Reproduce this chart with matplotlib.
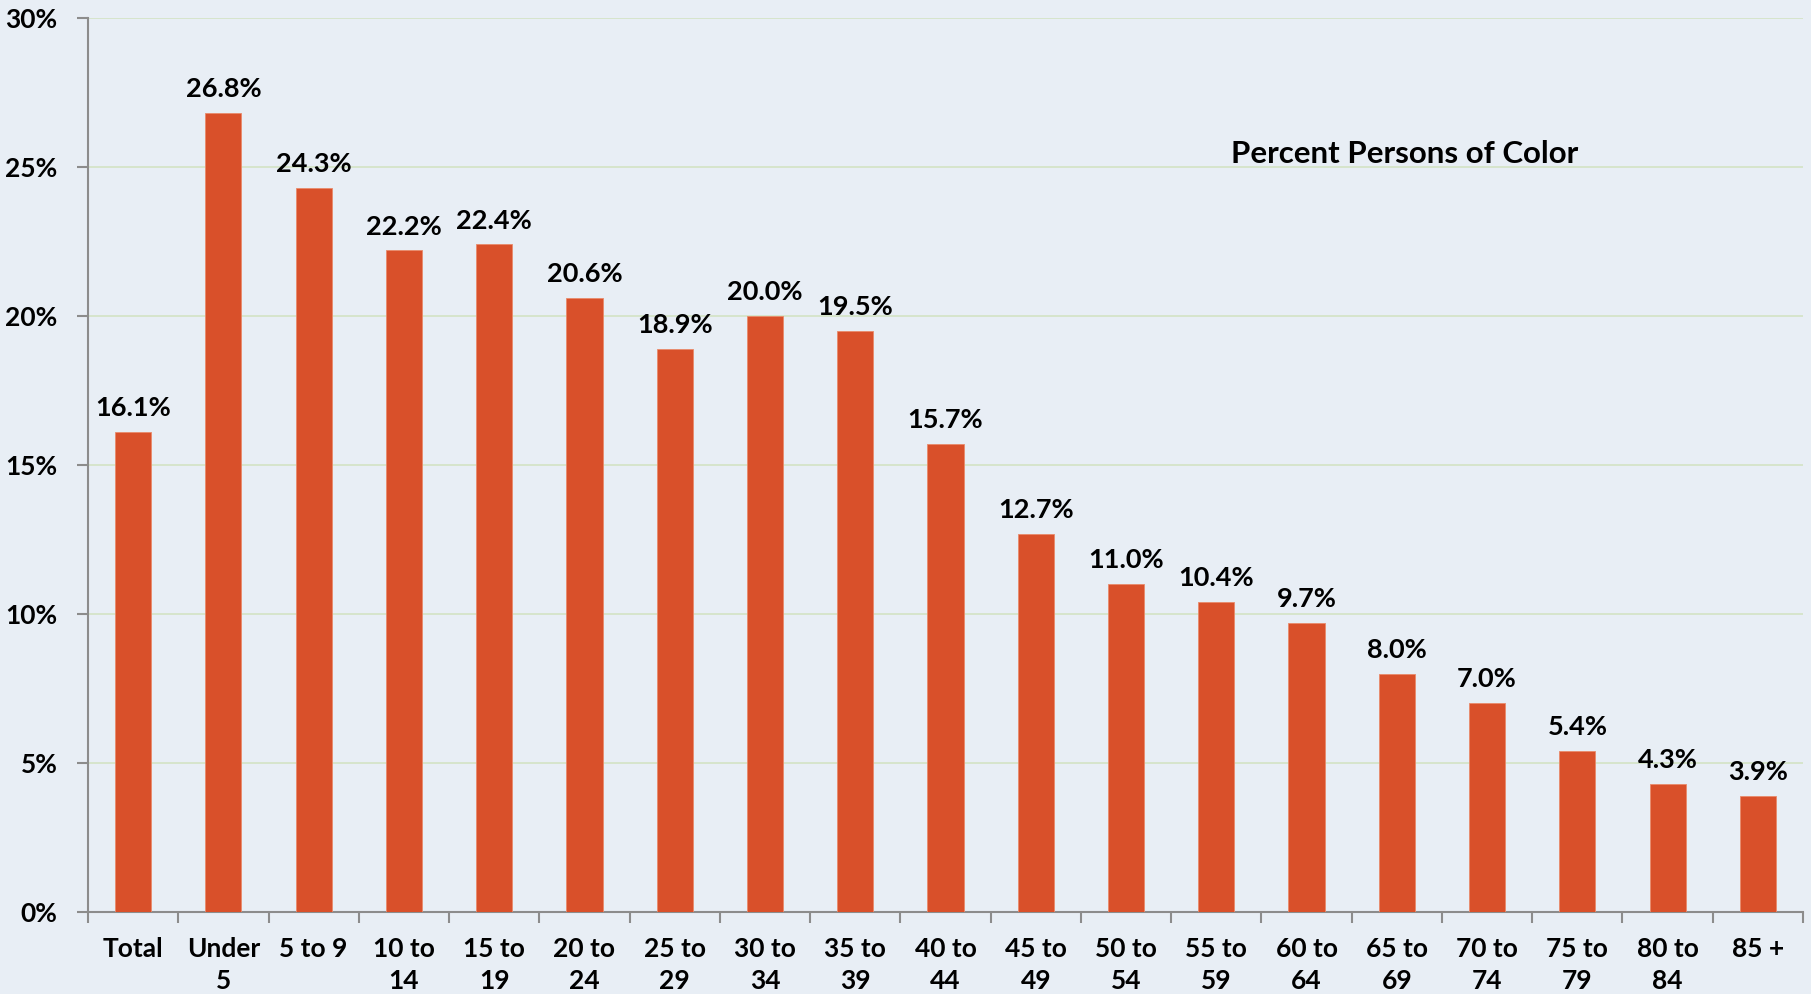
import matplotlib.pyplot as plt
import numpy as np

categories = ['Total', 'Under\n5', '5 to 9', '10 to\n14', '15 to\n19', '20 to\n24', '25 to\n29',
              '30 to\n34', '35 to\n39', '40 to\n44', '45 to\n49', '50 to\n54', '55 to\n59',
              '60 to\n64', '65 to\n69', '70 to\n74', '75 to\n79', '80 to\n84', '85 +']
values = [16.1, 26.8, 24.3, 22.2, 22.4, 20.6, 18.9, 20.0, 19.5, 15.7, 12.7, 11.0, 10.4,
          9.7, 8.0, 7.0, 5.4, 4.3, 3.9]
yticks = [0, 5, 10, 15, 20, 25, 30]

plt.rcParams['font.family'] = ['Lato', 'DejaVu Sans']
plt.rcParams['font.weight'] = 'bold'

bg = '#E8EEF5'
fig = plt.figure(figsize=(18.11, 9.94), dpi=100, facecolor=bg)
ax = fig.add_axes([88 / 1811, 1 - 912 / 994, (1803 - 88) / 1811, (912 - 18) / 994])
ax.set_facecolor(bg)

x = np.arange(len(categories))
bars = ax.bar(x, values, width=0.4, color='#D9502A', edgecolor='#E98A6A', linewidth=0.6, zorder=3)
for xi, v in zip(x, values):
    ax.text(xi, v + 0.4, f'{v:.1f}%', ha='center', va='bottom', fontsize=19.5, fontweight='bold')

ax.set_xlim(-0.5, len(categories) - 0.5)
ax.set_ylim(0, 30)
ax.set_yticks(yticks)
ax.set_yticklabels([f'{t}%' for t in yticks], fontsize=19, fontweight='bold')
ax.yaxis.grid(True, color='#D5E3C8', linewidth=1.3, zorder=0)
ax.set_axisbelow(True)

ax.set_xticks(x)
ax.set_xticklabels(categories, fontsize=19, fontweight='bold', va='top', linespacing=1.38)
ax.set_xticks(np.arange(len(categories) + 1) - 0.5, minor=True)
ax.tick_params(axis='x', which='major', length=0, pad=18)
ax.tick_params(axis='x', which='minor', length=8, width=1.5, color='#8C8C8C')
ax.tick_params(axis='y', length=8, width=1.5, color='#8C8C8C', pad=14)

for s in ['top', 'right']:
    ax.spines[s].set_visible(False)
for s in ['left', 'bottom']:
    ax.spines[s].set_color('#8C8C8C')
    ax.spines[s].set_linewidth(1.5)

ax.text(0.768, 0.848, 'Percent Persons of Color', transform=ax.transAxes, ha='center',
        va='center', fontsize=22.5, fontweight='bold')

fig.savefig('out.png', dpi=100, facecolor=bg)
